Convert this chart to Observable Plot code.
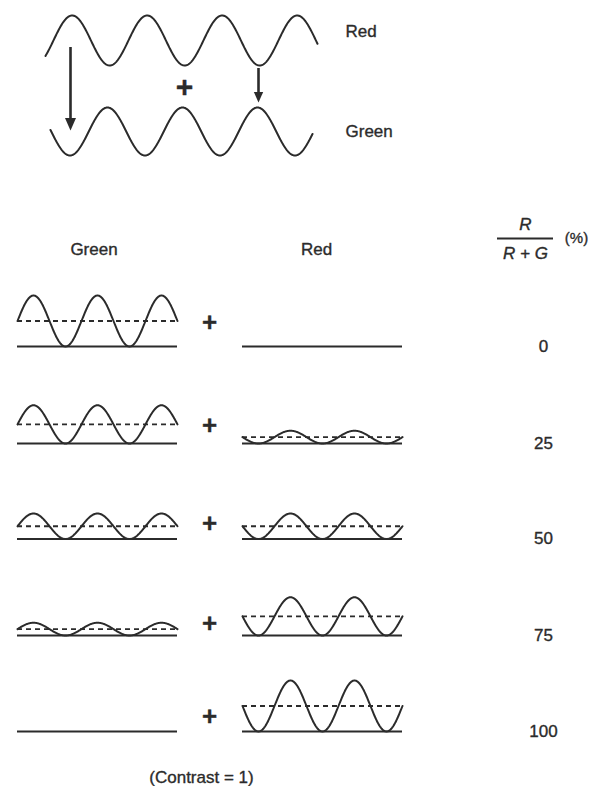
<!DOCTYPE html>
<html><head><meta charset="utf-8">
<script src="https://cdn.jsdelivr.net/npm/d3@7"></script>
<script src="https://cdn.jsdelivr.net/npm/@observablehq/plot@0.6"></script>
<style>body{margin:0;background:#fff}</style>
</head><body><div id="chart"></div>
<script>
// ---------- data ----------
const ratioPercent   = [0, 25, 50, 75, 100];            // R/(R+G) in %
const ratioLabels    = ["0", "25", "50", "75", "100"];
const greenModulation = [1, 0.75, 0.5, 0.25, 0];        // relative amplitude of the green grating
const redModulation   = [0, 0.25, 0.5, 0.75, 1];        // relative amplitude of the red grating
const columnHeaders  = ["Green", "Red"];
const topLabels      = ["Red", "Green"];
const tableCycles    = 2.5;                              // cycles drawn per grating in the table
const captionText    = "(Contrast = 1)";

// ---------- layout (pixels) ----------
const W = 592, H = 786;
const ink = "#2b2b2b";
const font = "Liberation Sans, Arial, Helvetica, sans-serif";
const L = {
  rowBase: [346, 443, 538.5, 635, 731],
  plusDy:  [24, 18, 15.5, 12, 14.5],
  greenX0: 17, redX0: 242, tablePeriod: 64, fullAmp: 25.5,
  plusX: 209, numX: 543,
  headerY: 249, headerX: [93.5, 316],
  fracX: 525, fracLineX: [497, 553], fracLineY: 238, fracTopY: 224, fracBotY: 253, pctX: 576,
  captionX: 201, captionY: 777,
  top: {
    red:   {x0: 45, x1: 317, mean: 40,  amp: 25, peak: 71.7, period: 75},
    green: {x0: 50, x1: 312, mean: 131, amp: 24, peak: 107,  period: 75},
    labelX: 345, labelY: [31.5, 131],
    plus: [184, 87],
    arrows: [ {x: 70, y1: 47, y2: 130, head: 10}, {x: 258, y1: 68, y2: 102, head: 8.5} ]
  }
};

// ---------- derived geometry ----------
const tableLen = tableCycles * L.tablePeriod;
function grating(id, x0, base, amp, sign) {
  const pts = [];
  for (let x = x0; x <= x0 + tableLen + 1e-9; x += 0.5)
    pts.push({id, x, y: base - amp + sign * amp * Math.sin(2 * Math.PI * (x - x0) / L.tablePeriod)});
  return pts;
}
const waves = [], baselines = [], means = [];
ratioPercent.forEach((r, i) => {
  const base = L.rowBase[i];
  [["green", L.greenX0, greenModulation[i], -1], ["red", L.redX0, redModulation[i], 1]].forEach(([c, x0, m, s]) => {
    const amp = m * L.fullAmp;
    baselines.push({y: base, x1: x0, x2: x0 + tableLen});
    if (amp > 0) {
      waves.push(...grating(c + r, x0, base, amp, s));
      means.push({y: base - amp, x1: x0, x2: x0 + tableLen});
    }
  });
});

const topWaves = [];
for (const name of ["red", "green"]) {
  const w = L.top[name];
  for (let x = w.x0; x <= w.x1 + 1e-9; x += 0.5)
    topWaves.push({id: name, x, y: w.mean - w.amp * Math.cos(2 * Math.PI * (x - w.peak) / w.period)});
}

// filled, slightly elongated arrow head with its tip at the anchor point
const arrowHead = {
  draw(context, size) {
    const s = Math.sqrt(size / Math.PI);
    context.moveTo(-s * 0.55, -s * 1.25);
    context.lineTo(s * 0.55, -s * 1.25);
    context.lineTo(0, 0);
    context.closePath();
  }
};
const arrows = L.top.arrows;

const txt = {fontFamily: font, fill: ink, fontSize: 17, stroke: ink, strokeWidth: 0.35};

const chart = Plot.plot({
  width: W, height: H,
  margin: 0,
  x: {domain: [0, W], range: [0, W], axis: null},
  y: {domain: [0, H], range: [0, H], axis: null},
  r: {type: "identity"},
  style: {background: "#fff"},
  marks: [
    // top sketch
    Plot.line(topWaves, {x: "x", y: "y", z: "id", stroke: ink, strokeWidth: 2}),
    Plot.ruleX(arrows, {x: "x", y1: "y1", y2: d => d.y2 - d.head, stroke: ink, strokeWidth: 2.6}),
    Plot.dot(arrows, {x: "x", y: "y2", r: "head", symbol: arrowHead, fill: ink, stroke: null}),
    Plot.text(["+"], {x: L.top.plus[0], y: L.top.plus[1], text: d => d, ...txt, fontSize: 30, fontWeight: "bold"}),
    Plot.text(topLabels, {x: L.top.labelX, y: (d, i) => L.top.labelY[i], text: d => d, ...txt, textAnchor: "start"}),

    // table headers
    Plot.text(columnHeaders, {x: (d, i) => L.headerX[i], y: L.headerY, text: d => d, ...txt, letterSpacing: 0.6}),
    Plot.text(["R"], {x: L.fracX, y: L.fracTopY, text: d => d, ...txt, fontStyle: "italic"}),
    Plot.ruleY([L.fracLineY], {x1: L.fracLineX[0], x2: L.fracLineX[1], stroke: ink, strokeWidth: 2}),
    Plot.text(["R + G"], {x: L.fracX, y: L.fracBotY, text: d => d, ...txt, fontStyle: "italic"}),
    Plot.text(["(%)"], {x: L.pctX, y: L.fracLineY, text: d => d, ...txt, fontSize: 15}),

    // gratings
    Plot.ruleY(baselines, {y: "y", x1: "x1", x2: "x2", stroke: ink, strokeWidth: 2}),
    Plot.ruleY(means, {y: "y", x1: "x1", x2: "x2", stroke: ink, strokeWidth: 1.9, strokeDasharray: "5,4"}),
    Plot.line(waves, {x: "x", y: "y", z: "id", stroke: ink, strokeWidth: 2}),
    Plot.text(ratioPercent, {x: L.plusX, y: (d, i) => L.rowBase[i] - L.plusDy[i], text: () => "+", ...txt, fontSize: 26, fontWeight: "bold"}),
    Plot.text(ratioLabels, {x: L.numX, y: (d, i) => L.rowBase[i], text: d => d, ...txt}),

    // caption
    Plot.text([captionText], {x: L.captionX, y: L.captionY, text: d => d, ...txt})
  ]
});
document.getElementById("chart").append(chart);
</script>
</body></html>
